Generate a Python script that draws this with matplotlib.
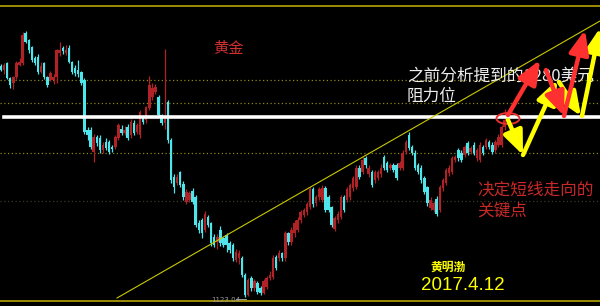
import matplotlib
matplotlib.use('Agg')
import matplotlib.pyplot as plt
from matplotlib.patches import Ellipse
import numpy as np

plt.rcParams['font.family'] = ['Noto Sans CJK SC', 'DejaVu Sans']

# gold candles
opens = [1324, 1321, 1327, 1314, 1310, 1315, 1325, 1327, 1353, 1347,
         1341, 1331, 1332, 1319, 1327, 1315, 1312, 1312, 1315, 1336,
         1340, 1336, 1340, 1328, 1323, 1321, 1319, 1312, 1269, 1269,
         1250, 1263, 1262, 1251, 1258, 1258, 1254, 1254, 1262, 1270,
         1266, 1271, 1264, 1275, 1267, 1264, 1279, 1277, 1288, 1297,
         1302, 1297, 1282, 1275, 1293, 1260, 1228, 1223, 1232, 1222,
         1206, 1208, 1216, 1210, 1188, 1190, 1182, 1193, 1188, 1176,
         1171, 1182, 1175, 1177, 1170, 1169, 1156, 1157, 1157, 1143,
         1125, 1140, 1131, 1136, 1131, 1127, 1132, 1140, 1141, 1158,
         1157, 1162, 1157, 1179, 1171, 1179, 1182, 1190, 1195, 1197,
         1202, 1217, 1205, 1210, 1208, 1218, 1210, 1202, 1183, 1190,
         1193, 1210, 1208, 1210, 1218, 1219, 1236, 1232, 1244, 1230,
         1232, 1225, 1227, 1230, 1245, 1240, 1236, 1238, 1238, 1236,
         1236, 1250, 1264, 1254, 1249, 1238, 1236, 1227, 1219, 1201,
         1199, 1209, 1199, 1218, 1223, 1231, 1232, 1243, 1251, 1249,
         1247, 1257, 1250, 1256, 1244, 1243, 1254, 1254, 1258, 1256,
         1251, 1256, 1256, 1271]
closes = [1321, 1325, 1314, 1308, 1315, 1327, 1328, 1351, 1345, 1338,
          1330, 1327, 1319, 1324, 1315, 1308, 1318, 1315, 1338, 1338,
          1337, 1338, 1328, 1319, 1318, 1317, 1310, 1267, 1264, 1254,
          1263, 1257, 1251, 1256, 1253, 1250, 1252, 1263, 1273, 1266,
          1269, 1262, 1276, 1266, 1273, 1284, 1276, 1289, 1308, 1305,
          1306, 1282, 1275, 1279, 1260, 1225, 1219, 1228, 1221, 1210,
          1215, 1214, 1206, 1186, 1182, 1179, 1196, 1186, 1170, 1169,
          1176, 1170, 1169, 1169, 1164, 1157, 1163, 1162, 1143, 1125,
          1138, 1131, 1137, 1128, 1127, 1137, 1140, 1143, 1157, 1149,
          1162, 1157, 1179, 1171, 1182, 1188, 1190, 1197, 1199, 1204,
          1217, 1204, 1210, 1217, 1218, 1199, 1199, 1186, 1192, 1196,
          1210, 1199, 1217, 1221, 1227, 1236, 1228, 1243, 1238, 1236,
          1221, 1232, 1232, 1236, 1236, 1234, 1238, 1234, 1227, 1240,
          1249, 1258, 1253, 1249, 1236, 1232, 1225, 1215, 1205, 1208,
          1205, 1196, 1219, 1225, 1234, 1236, 1244, 1245, 1244, 1243,
          1254, 1249, 1253, 1249, 1251, 1256, 1249, 1260, 1254, 1250,
          1258, 1263, 1271, 1277]
highs = [1326, 1327, 1328, 1315, 1316, 1329, 1331, 1354, 1355, 1348,
         1342, 1333, 1335, 1328, 1328, 1316, 1320, 1317, 1339, 1345,
         1342, 1343, 1343, 1329, 1325, 1330, 1320, 1314, 1271, 1271,
         1265, 1264, 1264, 1258, 1262, 1260, 1256, 1264, 1275, 1273,
         1272, 1274, 1278, 1277, 1275, 1286, 1281, 1290, 1316, 1310,
         1309, 1299, 1283, 1339, 1295, 1262, 1230, 1230, 1233, 1224,
         1217, 1216, 1218, 1212, 1190, 1192, 1198, 1195, 1189, 1178,
         1178, 1185, 1176, 1179, 1172, 1170, 1165, 1164, 1159, 1144,
         1140, 1142, 1139, 1137, 1133, 1139, 1142, 1146, 1160, 1160,
         1164, 1163, 1181, 1180, 1184, 1190, 1193, 1199, 1201, 1206,
         1219, 1219, 1212, 1219, 1221, 1220, 1212, 1203, 1194, 1198,
         1212, 1212, 1219, 1223, 1229, 1238, 1238, 1245, 1246, 1238,
         1234, 1234, 1234, 1239, 1247, 1242, 1240, 1240, 1240, 1242,
         1251, 1260, 1267, 1256, 1251, 1240, 1238, 1229, 1220, 1210,
         1207, 1211, 1221, 1227, 1236, 1238, 1246, 1247, 1253, 1251,
         1256, 1259, 1255, 1258, 1253, 1258, 1256, 1262, 1260, 1258,
         1260, 1265, 1273, 1287]
lows = [1320, 1317, 1313, 1305, 1304, 1313, 1324, 1325, 1344, 1336,
        1328, 1325, 1317, 1318, 1313, 1306, 1311, 1309, 1310, 1333,
        1335, 1334, 1327, 1317, 1316, 1315, 1308, 1265, 1260, 1252,
        1241, 1255, 1249, 1249, 1251, 1248, 1250, 1252, 1260, 1264,
        1264, 1260, 1262, 1264, 1265, 1262, 1274, 1275, 1286, 1295,
        1300, 1280, 1273, 1270, 1257, 1223, 1214, 1221, 1219, 1208,
        1204, 1206, 1204, 1184, 1179, 1175, 1180, 1184, 1168, 1167,
        1165, 1168, 1167, 1163, 1162, 1155, 1154, 1152, 1141, 1123.04,
        1124, 1129, 1129, 1126, 1125, 1126, 1130, 1138, 1139, 1147,
        1155, 1155, 1155, 1169, 1169, 1176, 1180, 1188, 1193, 1195,
        1200, 1202, 1203, 1208, 1206, 1197, 1197, 1184, 1181, 1188,
        1191, 1197, 1206, 1208, 1216, 1217, 1226, 1230, 1236, 1228,
        1219, 1223, 1225, 1228, 1234, 1232, 1234, 1232, 1225, 1234,
        1234, 1248, 1251, 1247, 1234, 1230, 1223, 1213, 1203, 1199,
        1197, 1194, 1197, 1216, 1221, 1229, 1230, 1241, 1242, 1241,
        1245, 1247, 1248, 1247, 1242, 1241, 1247, 1252, 1252, 1248,
        1249, 1254, 1254, 1269]

resistance = 1280
dotted_levels = [1312, 1292, 1249]
dim_level = 1207

CYAN = '#4ee6ea'
RED = '#b02226'
YEL = '#ffff00'

fig = plt.figure(figsize=(6, 3.06), dpi=100, facecolor='black')
ax = fig.add_axes([0, 0, 1, 1])
ax.set_facecolor('black')
ax.set_xlim(-0.32, 193.85)
ax.set_ylim(1115.6, 1381.8)
ax.axis('off')

# price levels
for lv in dotted_levels:
    ax.axhline(lv, color='#8c8418', lw=0.9, ls=(0, (1, 2)), zorder=1)
ax.axhline(dim_level, color='#3a3a28', lw=0.9, ls=(0, (1, 2)), zorder=1)

o = np.array(opens, float)
c = np.array(closes, float)
h = np.array(highs, float)
l = np.array(lows, float)
x = np.arange(len(o))
up = c >= o
cols = np.where(up, RED, CYAN)

ax.vlines(x, l, h, colors=cols, lw=0.9, zorder=3)
body = np.maximum(np.abs(c - o), 1.2)
ax.bar(x, body, bottom=np.minimum(o, c), width=0.8, color=cols,
       linewidth=0, zorder=4)

ax.axhline(resistance, xmin=4 / 600, color='white', lw=2.6, zorder=5)

# annotation layer in picture units
ov = fig.add_axes([0, 0, 1, 1])
ov.set_xlim(0, 600)
ov.set_ylim(306, 0)
ov.axis('off')
ov.patch.set_alpha(0)

ov.axhline(6, color='#c8b400', lw=1.1)
ov.axhline(300.5, color='#c8b400', lw=1.1)
ov.plot([117, 600], [298, 21], color='#c8c800', lw=0.8)

ov.add_patch(Ellipse((508, 118.5), 23, 11, fill=False, ec='#e83030', lw=1.4, zorder=6))

def arrow(p0, p1, col):
    ov.annotate('', xy=p1, xytext=p0,
                arrowprops=dict(arrowstyle='-|>,head_width=0.5,head_length=1.2',
                                color=col, lw=3.2, shrinkA=0, shrinkB=0,
                                mutation_scale=12), zorder=7)

arrow((508, 120), (523, 155), YEL)
arrow((523, 155), (557, 80), YEL)
arrow((559, 82), (581, 116), YEL)
arrow((582, 116), (600, 28), YEL)
arrow((508, 115), (540, 60), '#ff3030')
arrow((546, 70), (564, 116), '#ff3030')
arrow((564, 116), (585, 30), '#ff3030')

ov.text(213, 48, '黄金', color='#d03030', fontsize=11, va='center', ha='left')
ov.text(407, 76, '之前分析提到的1280美元', color='#eeeeee', fontsize=12,
        va='center', ha='left')
ov.text(407, 96, '阻力位', color='#eeeeee', fontsize=12, va='center', ha='left')
ov.text(477, 190, '决定短线走向的', color='#c82828', fontsize=12,
        va='center', ha='left')
ov.text(477, 211, '关键点', color='#c82828', fontsize=12, va='center', ha='left')
ov.text(430, 267, '黄明渤', color=YEL, fontsize=8.5, va='center', ha='left',
        weight='bold')
ov.text(421, 285, '2017.4.12', color=YEL, fontsize=13.5, va='center',
        ha='left', family='Liberation Sans')
ov.text(211, 299.5, '1123.04', color='#9a9a9a', fontsize=5, va='center',
        ha='left', family='DejaVu Sans')
ov.plot([236, 246], [299, 299], color='#9a9a9a', lw=0.7)

fig.savefig('out.png', dpi=100, facecolor='black')
